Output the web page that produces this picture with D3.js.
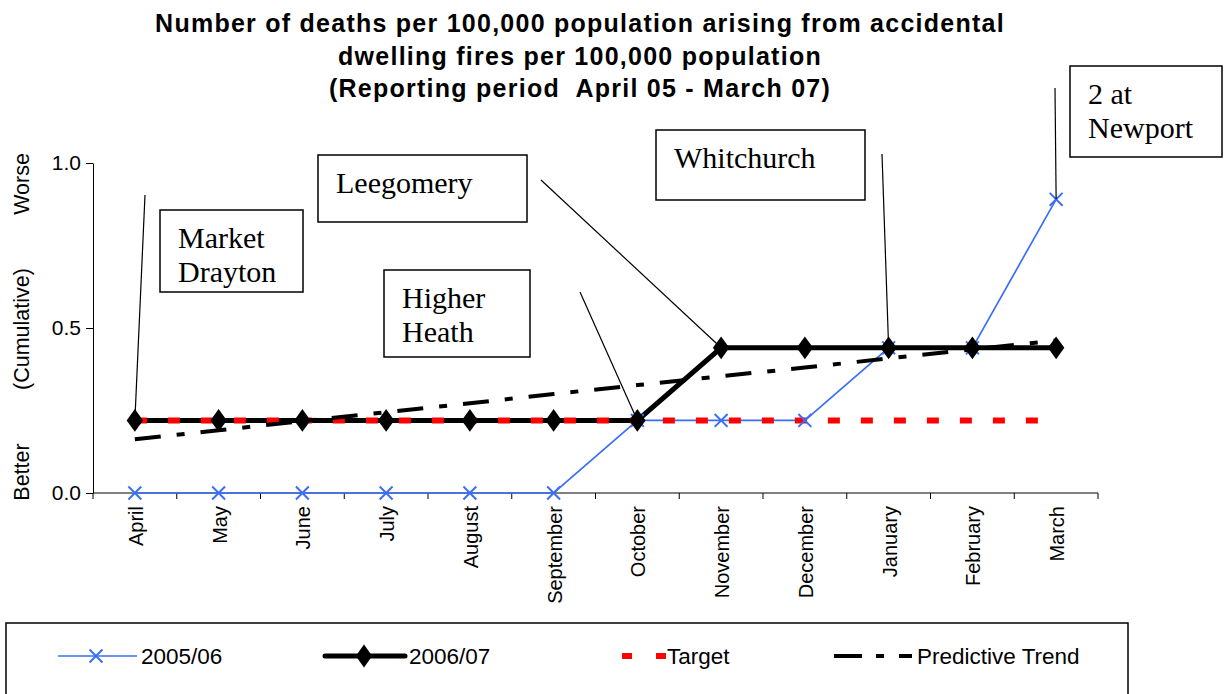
<!DOCTYPE html>
<html>
<head>
<meta charset="utf-8">
<script src="https://cdn.jsdelivr.net/npm/d3@7"></script>
<style>
  body { margin: 0; background: #fff; }
  text { font-family: "Liberation Sans", Arial, sans-serif; }
  .serif { font-family: "Liberation Serif", "Times New Roman", serif; }
</style>
</head>
<body>
<svg id="chart" width="1225" height="694"></svg>
<script>
var months = ["April","May","June","July","August","September","October","November","December","January","February","March"];
var s0506 = [0, 0, 0, 0, 0, 0, 0.22, 0.22, 0.22, 0.44, 0.44, 0.89];
var s0607 = [0.22, 0.22, 0.22, 0.22, 0.22, 0.22, 0.22, 0.44, 0.44, 0.44, 0.44, 0.44];
var target = [0.22, 0.22, 0.22, 0.22, 0.22, 0.22, 0.22, 0.22, 0.22, 0.22, 0.22, 0.22];
var trend = [0.163, 0.19, 0.218, 0.245, 0.272, 0.30, 0.327, 0.354, 0.38, 0.408, 0.435, 0.462];
var yTicks = [0.0, 0.5, 1.0];
var titleLines = ["Number of deaths per 100,000 population arising from accidental",
                  "dwelling fires per 100,000 population",
                  "(Reporting period  April 05 - March 07)"];

// annotation callouts: label lines, box, leader line start, month index & series it points at
var notes = [
  {lines: ["Market", "Drayton"], box: [160, 210, 143, 82], from: [145, 195], idx: 0, s: s0607},
  {lines: ["Leegomery"], box: [318, 155, 209, 67], from: [541, 180], idx: 7, s: s0607},
  {lines: ["Higher", "Heath"], box: [384, 270, 146, 87], from: [580, 292], idx: 6, s: s0607},
  {lines: ["Whitchurch"], box: [656, 130, 209, 70], from: [882, 154], idx: 9, s: s0607},
  {lines: ["2 at", "Newport"], box: [1070, 66, 152, 91], from: [1055, 88], idx: 11, s: s0506}
];

var svg = d3.select("#chart");

var x = d3.scaleBand().domain(months).range([93, 1098]);
var y = d3.scaleLinear().domain([0, 1]).range([493, 163]);
var cx = function(i) { return x(months[i]) + x.bandwidth() / 2; };

// title
svg.append("g").selectAll("text").data(titleLines).enter().append("text")
  .attr("x", 580).attr("y", function(d, i) { return 32 + i * 32.5; })
  .attr("text-anchor", "middle").style("font-size", "25px").style("font-weight", "bold")
  .style("letter-spacing", "1.25px").style("white-space", "pre")
  .text(function(d) { return d; });

// y axis
var yAxis = svg.append("g").attr("transform", "translate(93,0)")
  .call(d3.axisLeft(y).tickValues(yTicks).tickFormat(d3.format(".1f")).tickSize(7).tickSizeOuter(0));
yAxis.select(".domain").attr("stroke", "#000");
yAxis.selectAll("text").style("font-size", "21px").attr("x", -12);

// x axis with ticks between categories
var xAxis = svg.append("g").attr("transform", "translate(0,493)");
xAxis.append("line").attr("x1", 93).attr("x2", 1098).attr("stroke", "#000");
xAxis.selectAll("line.tk").data(d3.range(13)).enter().append("line")
  .attr("class", "tk")
  .attr("x1", function(i) { return 93 + i * x.bandwidth(); })
  .attr("x2", function(i) { return 93 + i * x.bandwidth(); })
  .attr("y1", 0).attr("y2", 6).attr("stroke", "#000");
xAxis.selectAll("text").data(months).enter().append("text")
  .attr("transform", function(d) { return "translate(" + (x(d) + x.bandwidth() / 2 + 8) + ",13) rotate(-90)"; })
  .attr("text-anchor", "end").style("font-size", "20px")
  .text(function(d) { return d; });

// y axis title
var yl = svg.append("g").style("font-size", "21.5px");
[["Worse", 184], ["(Cumulative)", 329], ["Better", 472]].forEach(function(p) {
  yl.append("text").attr("transform", "translate(29," + p[1] + ") rotate(-90)")
    .attr("text-anchor", "middle").text(p[0]);
});

var line = d3.line().x(function(d, i) { return cx(i); }).y(function(d) { return y(d); });

// lines first, in series order
svg.append("path").datum(s0506).attr("d", line)
  .attr("fill", "none").attr("stroke", "#3b6ff5").attr("stroke-width", 1.7);
svg.append("path").datum(s0607).attr("d", line)
  .attr("fill", "none").attr("stroke", "#000").attr("stroke-width", 5);
svg.append("path").datum(target).attr("d", line)
  .attr("fill", "none").attr("stroke", "#ff0000").attr("stroke-width", 6)
  .attr("stroke-dasharray", "12,21");
svg.append("path").datum(trend).attr("d", line)
  .attr("fill", "none").attr("stroke", "#000").attr("stroke-width", 4)
  .attr("stroke-dasharray", "26,16,8,16");

// markers
svg.selectAll("path.xm").data(s0506).enter().append("path").attr("class", "xm")
  .attr("d", d3.symbol().type(d3.symbolX).size(110))
  .attr("transform", function(d, i) { return "translate(" + cx(i) + "," + y(d) + ")"; })
  .attr("fill", "none").attr("stroke", "#3b6ff5").attr("stroke-width", 2);
svg.selectAll("path.dia").data(s0607).enter().append("path").attr("class", "dia")
  .attr("d", d3.symbol().type(d3.symbolDiamond).size(150))
  .attr("transform", function(d, i) { return "translate(" + cx(i) + "," + y(d) + ") scale(1.25,1)"; })
  .attr("fill", "#000");

// callouts
var ng = svg.append("g");
notes.forEach(function(n) {
  ng.append("line").attr("x1", n.from[0]).attr("y1", n.from[1])
    .attr("x2", cx(n.idx)).attr("y2", y(n.s[n.idx])).attr("stroke", "#000").attr("stroke-width", 1.2);
  ng.append("rect").attr("x", n.box[0]).attr("y", n.box[1]).attr("width", n.box[2]).attr("height", n.box[3])
    .attr("fill", "#fff").attr("stroke", "#000").attr("stroke-width", 1.5);
  n.lines.forEach(function(t, k) {
    ng.append("text").attr("class", "serif").attr("x", n.box[0] + 18).attr("y", n.box[1] + 38 + k * 34)
      .style("font-size", "30px").text(t);
  });
});

// legend
var lg = svg.append("g");
lg.append("rect").attr("x", 6).attr("y", 623).attr("width", 1122).attr("height", 80)
  .attr("fill", "none").attr("stroke", "#000").attr("stroke-width", 1.5);
var ly = 656;
lg.append("line").attr("x1", 58).attr("x2", 137).attr("y1", ly).attr("y2", ly).attr("stroke", "#3b6ff5").attr("stroke-width", 1.7);
lg.append("path").attr("d", d3.symbol().type(d3.symbolX).size(110)).attr("transform", "translate(96," + ly + ")")
  .attr("stroke", "#3b6ff5").attr("stroke-width", 2);
lg.append("line").attr("x1", 325).attr("x2", 405).attr("y1", ly).attr("y2", ly).attr("stroke", "#000").attr("stroke-width", 5).attr("stroke-linecap", "round");
lg.append("path").attr("d", d3.symbol().type(d3.symbolDiamond).size(150)).attr("transform", "translate(364," + ly + ") scale(1.25,1)");
lg.append("line").attr("x1", 622).attr("x2", 666).attr("y1", ly).attr("y2", ly).attr("stroke", "#ff0000").attr("stroke-width", 6).attr("stroke-dasharray", "10,24,10");
lg.append("line").attr("x1", 834).attr("x2", 912).attr("y1", ly).attr("y2", ly).attr("stroke", "#000").attr("stroke-width", 4).attr("stroke-dasharray", "28,14,8,15,13");
var lt = [["2005/06", 141], ["2006/07", 409], ["Target", 667], ["Predictive Trend", 917]];
lt.forEach(function(p) {
  lg.append("text").attr("x", p[1]).attr("y", ly + 8).style("font-size", "22.5px").text(p[0]);
});
</script>
</body>
</html>
